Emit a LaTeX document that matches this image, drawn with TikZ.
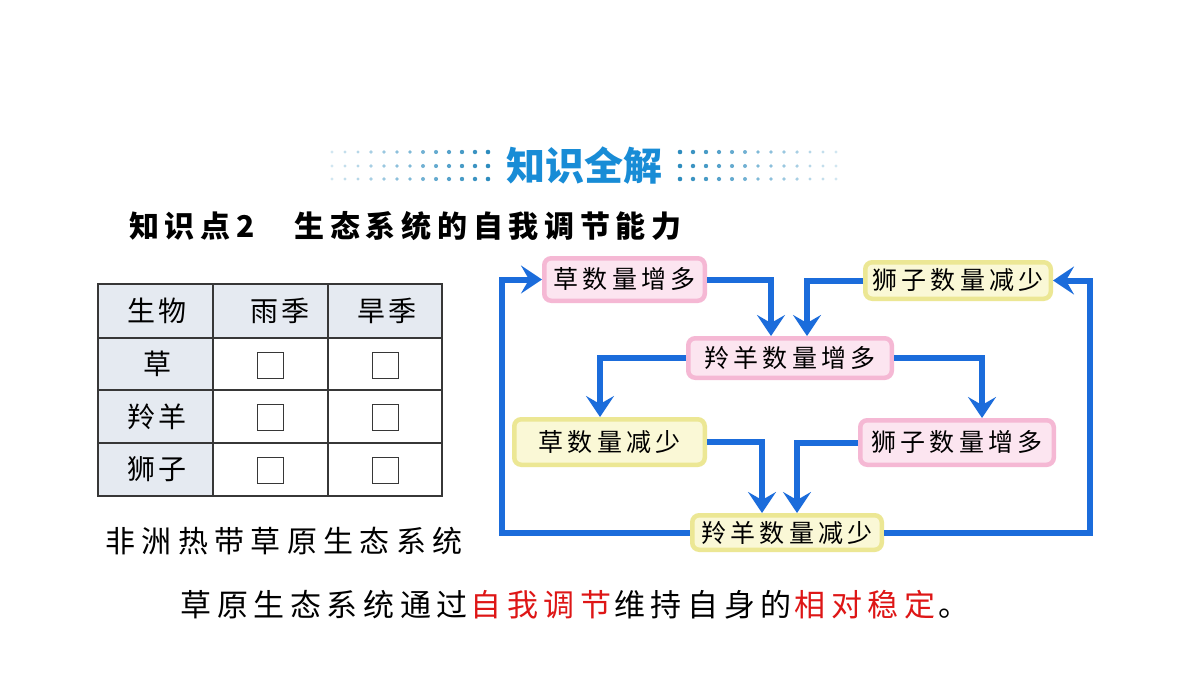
\documentclass[tikz,border=0pt]{standalone}
\usepackage{fontspec}
\setmainfont{Noto Sans CJK SC}
\usetikzlibrary{arrows.meta,calc}
\definecolor{pinkB}{RGB}{245,184,212}
\definecolor{pinkF}{RGB}{252,229,240}
\definecolor{yelB}{RGB}{236,231,148}
\definecolor{yelF}{RGB}{250,248,214}
\definecolor{arrowblue}{RGB}{27,108,219}
\definecolor{titleblue}{RGB}{24,140,214}
\definecolor{dotc}{RGB}{45,140,190}
\definecolor{hdr}{RGB}{229,234,241}
\definecolor{tabline}{RGB}{55,55,55}
\definecolor{redtxt}{RGB}{222,22,22}
\newcommand\myfs[1]{\fontsize{#1pt}{#1pt}\selectfont}
\newcommand\myls[1]{\addfontfeatures{LetterSpace=#1}}
\begin{document}
\begin{tikzpicture}[x=1pt,y=-1pt,
  box/.style={rounded corners=7pt, line width=4.5pt, inner sep=0pt, minimum height=#1, font=\myfs{25}\myls{17}},
  pinkbox/.style={box=#1, draw=pinkB, fill=pinkF},
  yelbox/.style={box=#1, draw=yelB, fill=yelF},
  arr/.style={draw=arrowblue, line width=6pt, -{Stealth[length=21pt,width=28pt,inset=8pt]}},
  cell/.style={inner sep=0pt, font=\myfs{28}\myls{12}},
  chk/.style={draw=tabline, line width=1pt, minimum size=26pt, inner sep=0pt},
  tab/.style={draw=tabline, line width=1.5pt}
]
\useasboundingbox (0,0) rectangle (1200,675);
\fill[white] (0,0) rectangle (1200,675);

% dotted decoration
\foreach \i in {0,...,12}{
  \pgfmathsetmacro{\pct}{100-6.5*\i}
  \pgfmathsetmacro{\rr}{2.3-0.06*\i}
  \foreach \yy in {152,166,179}{
    \fill[dotc!\pct!white] (488-13*\i,\yy) circle[radius=\rr pt];
    \fill[dotc!\pct!white] (680+13*\i,\yy) circle[radius=\rr pt];
  }
}
\node[text=titleblue, font=\myfs{39}\bfseries, inner sep=0pt] (title) at (584,166) {知识全解};

\node[anchor=west, inner sep=0pt, font=\myfs{30}\bfseries\myls{19}] (head) at (129,226) {知识点2\hspace{40pt}生态系统的自我调节能力};

% table
\fill[hdr] (98,284) rectangle (442,338);
\fill[hdr] (98,338) rectangle (213,496);
\draw[tab] (98,284) rectangle (442,496);
\draw[tab] (98,338) -- (442,338);
\draw[tab] (98,390) -- (442,390);
\draw[tab] (98,443) -- (442,443);
\draw[tab] (213,284) -- (213,496);
\draw[tab] (328,284) -- (328,496);
\node[cell] (h1) at (157,311) {生物};
\node[cell] (h2) at (280,311) {雨季};
\node[cell] (h3) at (387,311) {旱季};
\node[cell] (r1) at (157,364) {草};
\node[cell] (r2) at (157,416.5) {羚羊};
\node[cell] (r3) at (157,469.5) {狮子};
\node[chk] (c11) at (270,365) {};
\node[chk] (c12) at (385,365) {};
\node[chk] (c21) at (270,417) {};
\node[chk] (c22) at (385,417) {};
\node[chk] (c31) at (270,470) {};
\node[chk] (c32) at (385,470) {};
\node[inner sep=0pt, font=\myfs{30}\myls{21}] (cap) at (284,541) {非洲热带草原生态系统};

% flow boxes
\node[pinkbox=42.5pt, minimum width=160.5pt] (gI) at (624.5,279.5) {草数量增多};
\node[yelbox=36.5pt, minimum width=185.5pt] (lD) at (958,280.5) {狮子数量减少};
\node[pinkbox=39.5pt, minimum width=203.5pt] (aI) at (790,358) {羚羊数量增多};
\node[yelbox=45.5pt, minimum width=190.5pt] (gD) at (609.5,442) {草数量减少};
\node[pinkbox=44.5pt, minimum width=193.5pt] (lI) at (957,442.5) {狮子数量增多};
\node[yelbox=34.5pt, minimum width=189.5pt] (aD) at (787,532.5) {羚羊数量减少};
\coordinate (L) at (502,287);
\coordinate (R) at (1090,278);

\draw[arr] (gI.east) -| ([xshift=-19pt]aI.north);
\draw[arr] (lD.west) -| ([xshift=17pt]aI.north);
\draw[arr] (aI.west) -| ([xshift=-9.5pt]gD.north);
\draw[arr] (aI.east) -| ([xshift=25pt]lI.north);
\draw[arr] (gD.east) -| ([xshift=-25pt]aD.north);
\draw[arr] (lI.west) -| ([xshift=10pt]aD.north);
\draw[arr] (aD.west) -- (aD.west -| L) |- (gI.west);
\draw[arr] (aD.east) -- (aD.east -| R) |- (lD.east);

% bottom sentence
\node[inner sep=0pt, font=\myfs{31}\myls{18}] (sum) at (575,605) {草原生态系统通过\hspace{3pt}\textcolor{redtxt}{自我调节}\hspace{3pt}维持自身的\hspace{3pt}\textcolor{redtxt}{相对稳定}\hspace{3pt}。};
\end{tikzpicture}
\end{document}
